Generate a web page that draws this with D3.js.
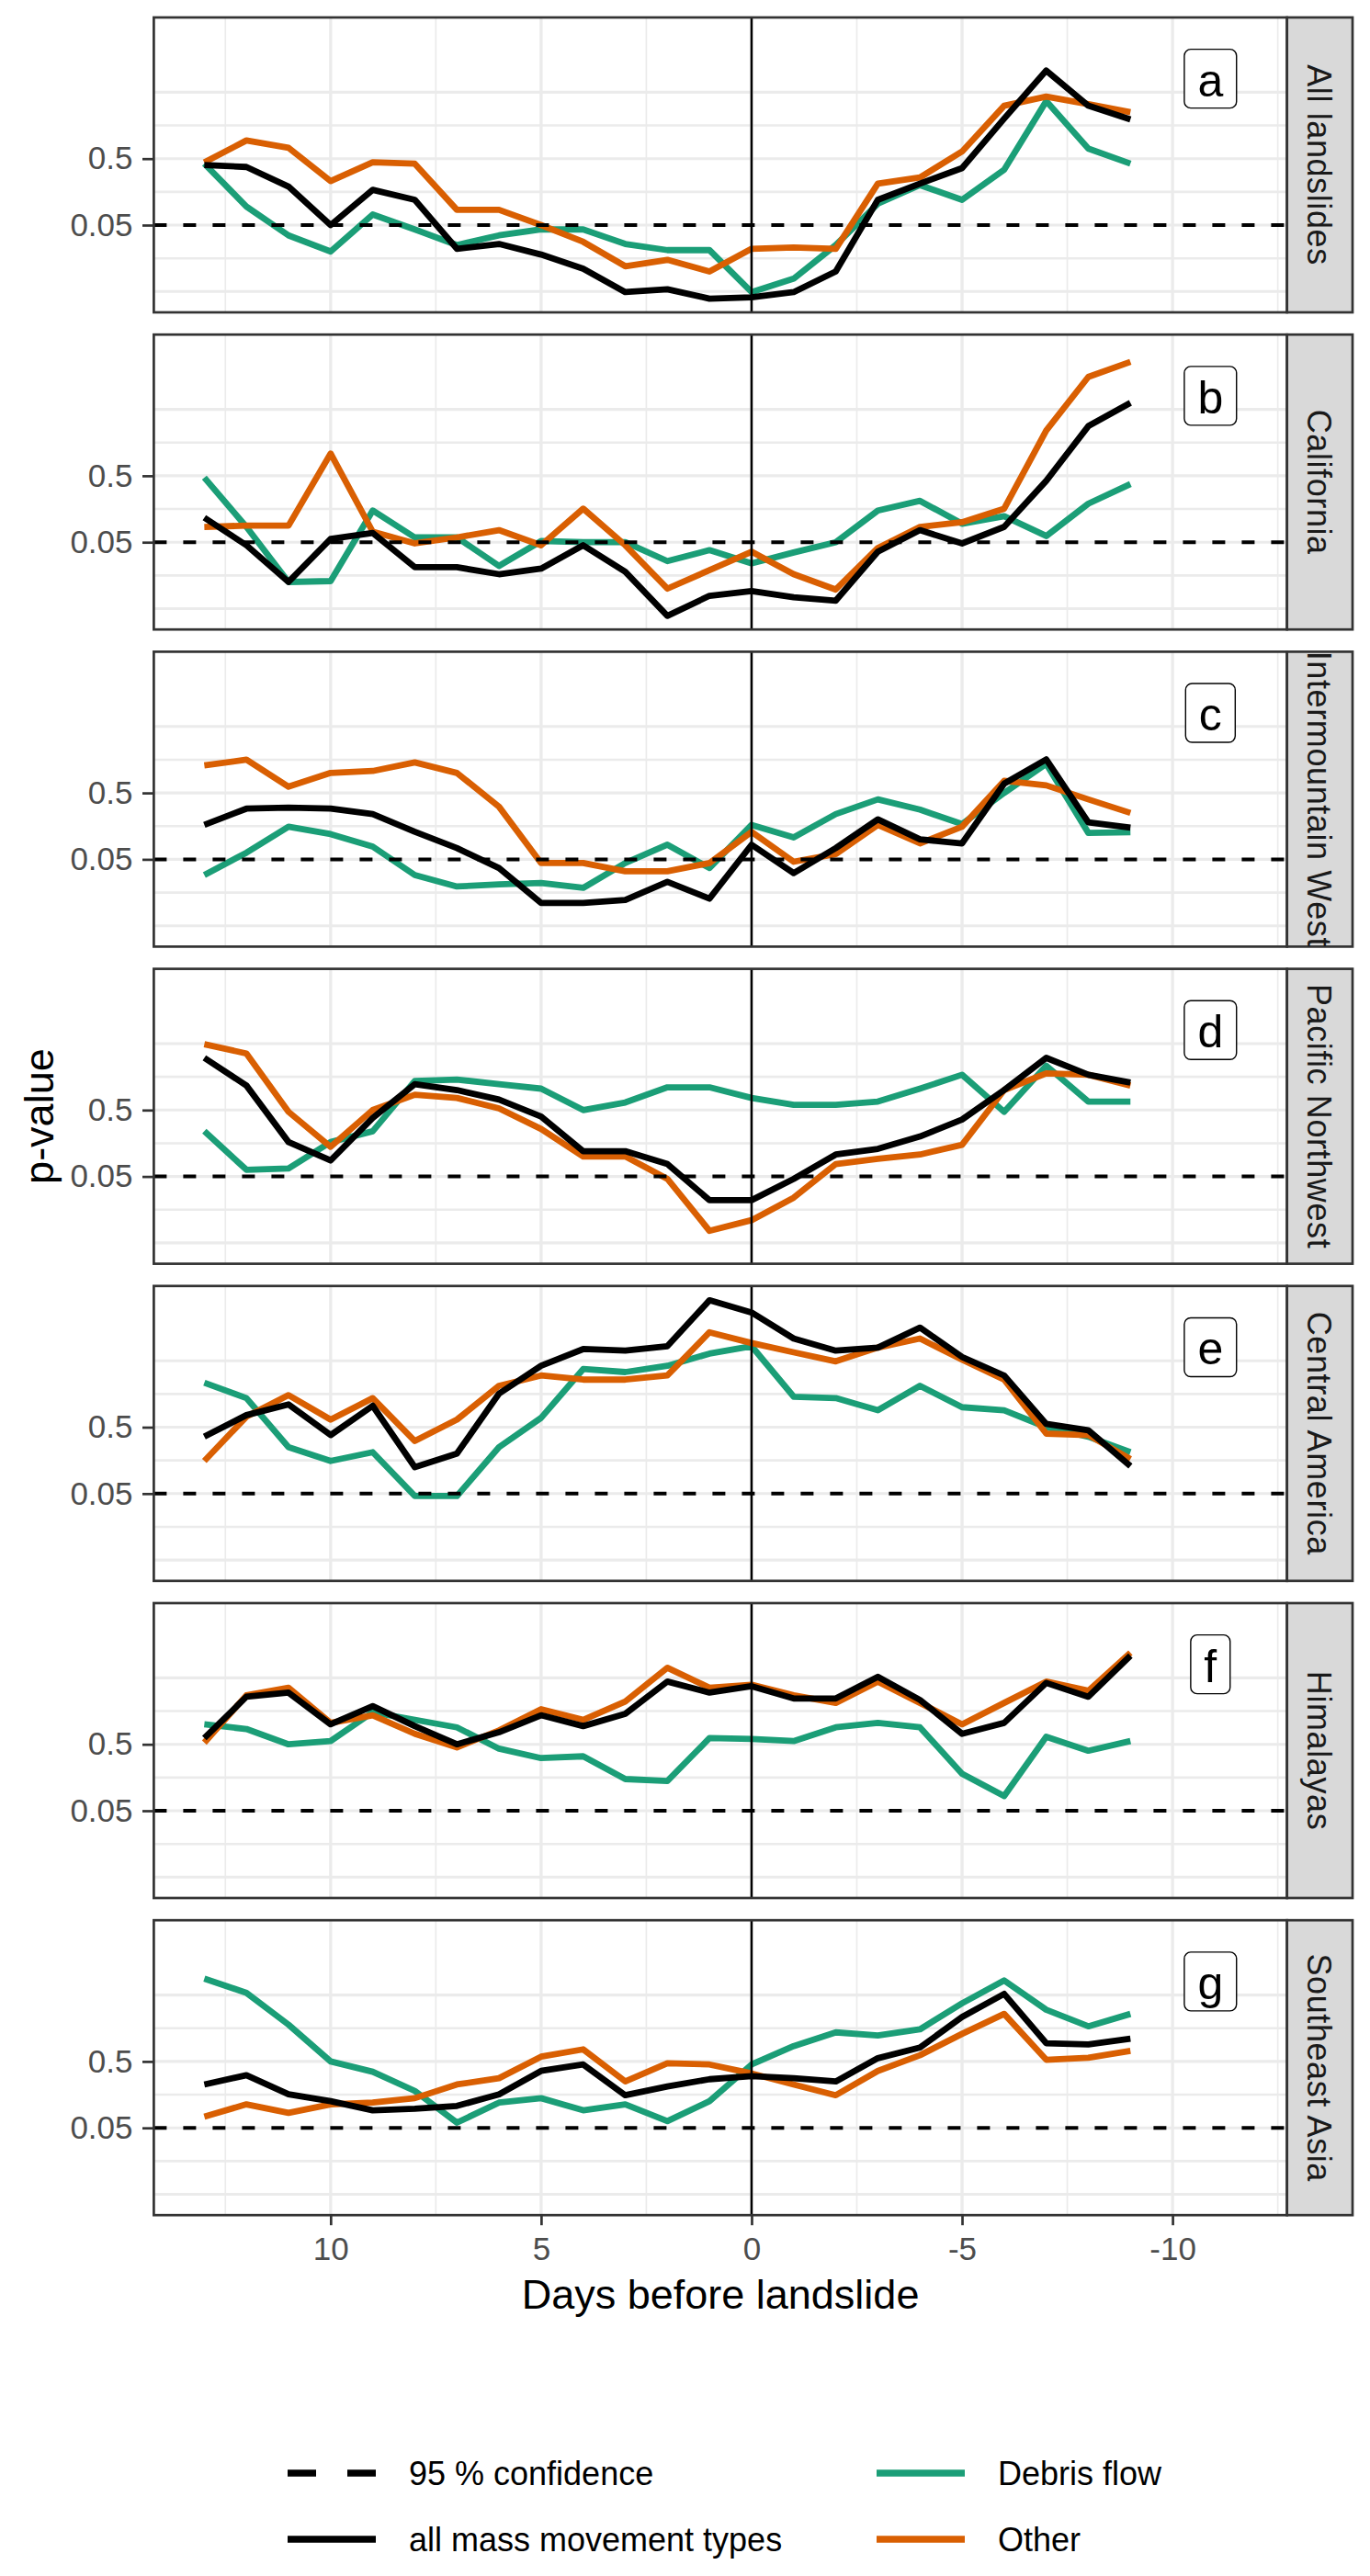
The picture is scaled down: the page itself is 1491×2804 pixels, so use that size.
<!DOCTYPE html>
<html>
<head>
<meta charset="utf-8">
<script src="https://cdnjs.cloudflare.com/ajax/libs/d3/7.8.5/d3.min.js"></script>
<style>
  body { margin: 0; background: #fff; }
  svg { display: block; font-family: "Liberation Sans", Arial, sans-serif; }
</style>
</head>
<body>
<script>
// days before landslide, 13 down to -9
var days = [13, 12, 11, 10, 9, 8, 7, 6, 5, 4, 3, 2, 1, 0, -1, -2, -3, -4, -5, -6, -7, -8, -9];

var regions = ['All landslides', 'California', 'Intermountain West', 'Pacific Northwest',
    'Central America', 'Himalayas', 'Southeast Asia'];
var panelLetters = ['a', 'b', 'c', 'd', 'e', 'f', 'g'];

// p-values, one row per region
var debrisFlow = [
    [0.42, 0.095, 0.035, 0.020, 0.072, 0.043, 0.025, 0.035, 0.043, 0.043, 0.026, 0.021, 0.021, 0.0049, 0.0078, 0.025, 0.105, 0.20, 0.12, 0.34, 3.67, 0.71, 0.42],
    [0.47, 0.085, 0.0126, 0.013, 0.15, 0.059, 0.059, 0.022, 0.052, 0.05, 0.05, 0.026, 0.038, 0.024, 0.035, 0.05, 0.15, 0.21, 0.095, 0.123, 0.062, 0.19, 0.375],
    [0.029, 0.063, 0.155, 0.12, 0.078, 0.029, 0.0195, 0.021, 0.022, 0.0186, 0.044, 0.083, 0.037, 0.165, 0.107, 0.24, 0.40, 0.28, 0.17, 0.5, 1.37, 0.125, 0.128],
    [0.24, 0.063, 0.066, 0.165, 0.24, 1.37, 1.44, 1.23, 1.05, 0.5, 0.65, 1.1, 1.1, 0.76, 0.6, 0.6, 0.67, 1.05, 1.7, 0.47, 2.33, 0.67, 0.67],
    [2.33, 1.37, 0.25, 0.155, 0.21, 0.046, 0.046, 0.25, 0.69, 3.75, 3.38, 4.2, 6.4, 8.3, 1.44, 1.37, 0.9, 2.1, 1.0, 0.9, 0.5, 0.36, 0.21],
    [1.0, 0.85, 0.5, 0.56, 1.52, 1.17, 0.9, 0.43, 0.31, 0.33, 0.15, 0.14, 0.62, 0.60, 0.56, 0.9, 1.05, 0.9, 0.18, 0.083, 0.65, 0.40, 0.56],
    [8.8, 5.4, 1.79, 0.5, 0.35, 0.18, 0.06, 0.12, 0.14, 0.092, 0.113, 0.063, 0.126, 0.45, 0.85, 1.37, 1.23, 1.52, 3.75, 8.3, 3.0, 1.69, 2.6]
];

var allTypes = [
    [0.40, 0.375, 0.19, 0.05, 0.17, 0.12, 0.022, 0.026, 0.018, 0.011, 0.0049, 0.0054, 0.0039, 0.0041, 0.0049, 0.010, 0.12, 0.21, 0.36, 2.0, 10.6, 3.13, 1.95],
    [0.117, 0.045, 0.0126, 0.056, 0.069, 0.021, 0.021, 0.0165, 0.020, 0.045, 0.018, 0.0039, 0.0078, 0.0092, 0.0074, 0.0066, 0.036, 0.076, 0.048, 0.085, 0.42, 2.8, 6.25],
    [0.165, 0.29, 0.30, 0.29, 0.24, 0.13, 0.074, 0.037, 0.011, 0.011, 0.0122, 0.023, 0.0128, 0.083, 0.031, 0.074, 0.2, 0.1, 0.087, 0.69, 1.6, 0.18, 0.15],
    [3.05, 1.17, 0.165, 0.087, 0.38, 1.23, 1.0, 0.72, 0.40, 0.12, 0.12, 0.077, 0.022, 0.022, 0.046, 0.107, 0.13, 0.2, 0.36, 1.0, 3.05, 1.7, 1.3],
    [0.36, 0.76, 1.1, 0.38, 1.05, 0.125, 0.2, 1.6, 4.2, 7.5, 7.1, 8.3, 40.7, 26.6, 10.8, 7.1, 7.9, 15.8, 5.7, 3.0, 0.56, 0.45, 0.13],
    [0.62, 2.6, 3.0, 1.0, 1.88, 0.94, 0.5, 0.76, 1.37, 0.94, 1.44, 4.4, 3.0, 3.75, 2.45, 2.45, 5.2, 2.33, 0.72, 1.05, 4.2, 2.6, 10.8],
    [0.225, 0.31, 0.16, 0.126, 0.092, 0.097, 0.107, 0.16, 0.36, 0.45, 0.155, 0.21, 0.27, 0.30, 0.28, 0.25, 0.56, 0.81, 2.33, 5.2, 0.94, 0.90, 1.1]
];

var otherTypes = [
    [0.44, 0.94, 0.73, 0.23, 0.44, 0.42, 0.085, 0.085, 0.05, 0.028, 0.012, 0.015, 0.010, 0.022, 0.023, 0.022, 0.21, 0.26, 0.64, 3.13, 4.3, 3.3, 2.5],
    [0.085, 0.089, 0.089, 1.08, 0.072, 0.048, 0.059, 0.076, 0.045, 0.16, 0.045, 0.010, 0.019, 0.036, 0.0165, 0.0097, 0.041, 0.085, 0.1, 0.16, 2.4, 15.4, 26],
    [1.3, 1.58, 0.62, 1.0, 1.07, 1.44, 1.0, 0.31, 0.044, 0.044, 0.033, 0.033, 0.044, 0.13, 0.046, 0.06, 0.165, 0.087, 0.155, 0.76, 0.65, 0.40, 0.25],
    [4.9, 3.55, 0.47, 0.14, 0.5, 0.85, 0.76, 0.53, 0.26, 0.10, 0.10, 0.046, 0.0076, 0.011, 0.024, 0.077, 0.092, 0.107, 0.15, 1.0, 1.78, 1.7, 1.17],
    [0.155, 0.72, 1.52, 0.65, 1.37, 0.31, 0.65, 2.1, 3.0, 2.6, 2.6, 3.0, 13.4, 9.25, 6.7, 4.9, 7.9, 10.8, 5.2, 2.6, 0.40, 0.38, 0.165],
    [0.53, 2.73, 3.56, 1.05, 1.37, 0.72, 0.45, 0.81, 1.69, 1.17, 2.2, 7.1, 3.56, 3.95, 2.73, 2.1, 4.4, 2.1, 1.0, 2.1, 4.4, 3.2, 12],
    [0.074, 0.113, 0.084, 0.113, 0.12, 0.14, 0.225, 0.28, 0.59, 0.76, 0.25, 0.47, 0.45, 0.33, 0.225, 0.155, 0.36, 0.62, 1.3, 2.6, 0.53, 0.57, 0.72]
];

var xTicks = [10, 5, 0, -5, -10];
var xMinor = [12.5, 7.5, 2.5, -2.5, -7.5, -12.5];
var yTicks = [0.5, 0.05];
var yGridMajor = [5, 0.5, 0.05, 0.005];
var yGridMinor = [1.58, 0.158, 0.0158];
var confidenceLevel = 0.05;
var labelDay = -10.9, labelP = 8;

var linetypeLabels = ['95 % confidence', 'all mass movement types'];
var colourLabels = ['Debris flow', 'Other'];

var W = 1491, H = 2804;
var left = 167.4, right = 1400.7, stripW = 71.3;
var top0 = 19, panelH = 321, panelStep = 345.2;
var colors = {debris: '#1B9E77', other: '#D95F02', all: '#000000'};

var svg = d3.select('body').append('svg')
    .attr('width', W)
    .attr('height', H);

svg.append('rect').attr('width', W).attr('height', H).attr('fill', '#fff');

var x = d3.scaleLinear().domain([14.2, -12.72]).range([left, right]);
var y = d3.scaleLog().domain([66.8, 0.002427]).range([0, panelH]);

var line = d3.line()
    .x(function (d) { return x(d.day); })
    .y(function (d) { return y(d.p); });

// plain hyphen for negatives, like the original
var plainFormat = function (d) { return String(d); };

regions.forEach(function (region, i) {
    var top = top0 + i * panelStep;
    var g = svg.append('g').attr('transform', 'translate(0,' + top + ')');

    // grid
    g.selectAll('.vminor').data(xMinor).enter().append('line')
        .attr('x1', x).attr('x2', x).attr('y1', 0).attr('y2', panelH)
        .attr('stroke', '#EBEBEB').attr('stroke-width', 1.7);
    g.selectAll('.vmajor').data(xTicks).enter().append('line')
        .attr('x1', x).attr('x2', x).attr('y1', 0).attr('y2', panelH)
        .attr('stroke', '#EBEBEB').attr('stroke-width', 3.3);
    g.selectAll('.hminor').data(yGridMinor).enter().append('line')
        .attr('x1', left).attr('x2', right).attr('y1', y).attr('y2', y)
        .attr('stroke', '#EBEBEB').attr('stroke-width', 2.6);
    g.selectAll('.hmajor').data(yGridMajor).enter().append('line')
        .attr('x1', left).attr('x2', right).attr('y1', y).attr('y2', y)
        .attr('stroke', '#EBEBEB').attr('stroke-width', 3.1);

    // clip for the panel
    var clipId = 'clip' + i;
    g.append('clipPath').attr('id', clipId)
        .append('rect').attr('x', left).attr('y', 0).attr('width', right - left).attr('height', panelH);

    var lines = g.append('g').attr('clip-path', 'url(#' + clipId + ')');

    var series = [
        {values: debrisFlow[i], color: colors.debris},
        {values: otherTypes[i], color: colors.other},
        {values: allTypes[i], color: colors.all}
    ];

    series.forEach(function (s) {
        var pts = days.map(function (d, k) { return {day: d, p: s.values[k]}; });
        lines.append('path')
            .attr('d', line(pts))
            .attr('fill', 'none')
            .attr('stroke', s.color)
            .attr('stroke-width', 6.8)
            .attr('stroke-linejoin', 'round')
            .attr('stroke-linecap', 'butt');
    });

    // reference lines
    lines.append('line')
        .attr('x1', left).attr('x2', right)
        .attr('y1', y(confidenceLevel)).attr('y2', y(confidenceLevel))
        .attr('stroke', '#000').attr('stroke-width', 4)
        .attr('stroke-dasharray', '14,18');
    lines.append('line')
        .attr('x1', x(0)).attr('x2', x(0)).attr('y1', 0).attr('y2', panelH)
        .attr('stroke', '#000').attr('stroke-width', 2.5);

    // panel letter label
    var lx = x(labelDay), ly = y(labelP);
    var lbl = g.append('g');
    var box = lbl.append('rect');
    var txt = lbl.append('text')
        .attr('x', lx).attr('y', ly + 19)
        .attr('text-anchor', 'middle')
        .attr('font-size', 50)
        .attr('fill', '#000')
        .text(panelLetters[i]);
    var tw = txt.node().getComputedTextLength();
    box.attr('x', lx - (tw + 29) / 2).attr('y', ly - 32)
        .attr('width', tw + 29).attr('height', 64)
        .attr('rx', 7).attr('ry', 7)
        .attr('fill', '#fff').attr('stroke', '#000').attr('stroke-width', 1.4);

    // border
    g.append('rect')
        .attr('x', left).attr('y', 0).attr('width', right - left).attr('height', panelH)
        .attr('fill', 'none').attr('stroke', '#333333').attr('stroke-width', 2.7);

    // strip
    var stripClip = 'sclip' + i;
    g.append('clipPath').attr('id', stripClip)
        .append('rect').attr('x', right).attr('y', 0).attr('width', stripW).attr('height', panelH);
    g.append('rect')
        .attr('x', right).attr('y', 0).attr('width', stripW).attr('height', panelH)
        .attr('fill', '#D9D9D9').attr('stroke', '#333333').attr('stroke-width', 2.7);
    g.append('g').attr('clip-path', 'url(#' + stripClip + ')')
        .append('text')
        .attr('transform', 'translate(' + (right + stripW / 2) + ',' + (panelH / 2) + ') rotate(90)')
        .attr('text-anchor', 'middle')
        .attr('dy', '0.36em')
        .attr('font-size', 36)
        .attr('letter-spacing', 0.6)
        .attr('fill', '#1A1A1A')
        .text(region);

    // y axis
    var yAxis = g.append('g')
        .attr('transform', 'translate(' + left + ',0)')
        .call(d3.axisLeft(y).tickValues(yTicks).tickFormat(plainFormat).tickSize(12.4).tickPadding(10.5));
    yAxis.select('.domain').remove();
    yAxis.selectAll('line').attr('stroke', '#333333').attr('stroke-width', 2.7);
    yAxis.selectAll('text')
        .attr('font-size', 35)
        .attr('font-family', '"Liberation Sans", Arial, sans-serif')
        .attr('fill', '#4D4D4D');

    // x axis only under the last panel
    if (i === regions.length - 1) {
        var xAxis = g.append('g')
            .attr('transform', 'translate(0,' + panelH + ')')
            .call(d3.axisBottom(x).tickValues(xTicks).tickFormat(plainFormat).tickSize(11).tickPadding(13));
        xAxis.select('.domain').remove();
        xAxis.selectAll('line').attr('stroke', '#333333').attr('stroke-width', 2.7);
        xAxis.selectAll('text')
            .attr('font-size', 35)
            .attr('font-family', '"Liberation Sans", Arial, sans-serif')
            .attr('fill', '#4D4D4D');
    }
});

// axis titles
svg.append('text')
    .attr('x', (left + right) / 2).attr('y', 2513)
    .attr('text-anchor', 'middle')
    .attr('font-size', 45)
    .attr('fill', '#000')
    .text('Days before landslide');

svg.append('text')
    .attr('transform', 'translate(58,' + (top0 + (6 * panelStep + panelH) / 2) + ') rotate(-90)')
    .attr('text-anchor', 'middle')
    .attr('font-size', 45)
    .attr('fill', '#000')
    .text('p-value');

// legend
var legendRows = [2692, 2764];
var legend = svg.append('g');

linetypeLabels.forEach(function (name, k) {
    legend.append('line')
        .attr('x1', 313).attr('x2', 409)
        .attr('y1', legendRows[k]).attr('y2', legendRows[k])
        .attr('stroke', '#000').attr('stroke-width', 7.3)
        .attr('stroke-dasharray', k === 0 ? '31,34' : null);
    legend.append('text')
        .attr('x', 445).attr('y', legendRows[k] + 13)
        .attr('font-size', 36)
        .attr('fill', '#000')
        .text(name);
});

colourLabels.forEach(function (name, k) {
    legend.append('line')
        .attr('x1', 954).attr('x2', 1050)
        .attr('y1', legendRows[k]).attr('y2', legendRows[k])
        .attr('stroke', k === 0 ? colors.debris : colors.other).attr('stroke-width', 7.3);
    legend.append('text')
        .attr('x', 1086).attr('y', legendRows[k] + 13)
        .attr('font-size', 36)
        .attr('fill', '#000')
        .text(name);
});
</script>
</body>
</html>
